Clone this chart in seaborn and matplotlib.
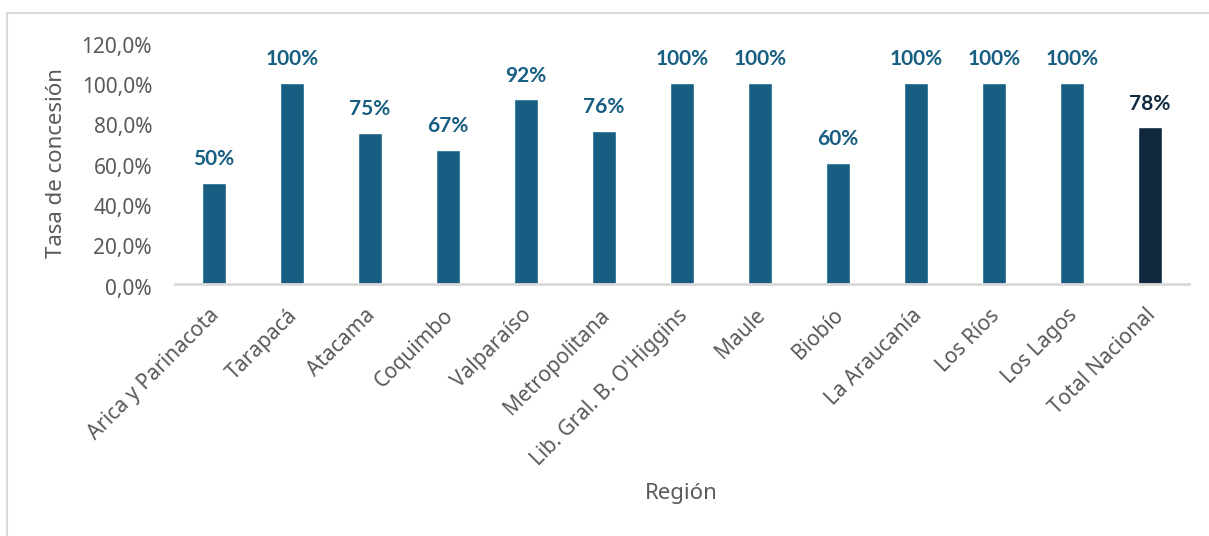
import matplotlib.pyplot as plt
import seaborn as sns
import pandas as pd
from matplotlib.lines import Line2D
from matplotlib.ticker import FuncFormatter
from matplotlib.transforms import ScaledTranslation

regiones = ["Arica y Parinacota", "Tarapacá", "Atacama", "Coquimbo", "Valparaíso",
            "Metropolitana", "Lib. Gral. B. O'Higgins", "Maule", "Biobío",
            "La Araucanía", "Los Ríos", "Los Lagos", "Total Nacional"]
tasas = [0.50, 1.00, 0.75, 0.667, 0.917, 0.762, 1.00, 1.00, 0.60, 1.00, 1.00, 1.00, 0.778]

azul = "#175E82"
navy = "#10293F"
colores = [azul] * 12 + [navy]

df = pd.DataFrame({"region": regiones, "tasa": tasas})

sns.set_style("white")
plt.rcParams["font.family"] = ["Noto Sans", "DejaVu Sans"]

fig = plt.figure(figsize=(12.09, 5.36), dpi=100)
W, H = 1209, 536
ax = fig.add_axes([175 / W, 1 - 284 / H, 1014 / W, 241.5 / H])

sns.barplot(data=df, x="region", y="tasa", hue="region", palette=colores,
            width=0.32, legend=False, ax=ax, saturation=1)

ax.set_ylim(0, 1.2)
ax.set_xlim(-0.5, len(regiones) - 0.5)
ax.set_yticks([0, 0.2, 0.4, 0.6, 0.8, 1.0, 1.2])
ax.yaxis.set_major_formatter(FuncFormatter(lambda v, p: f"{v*100:.1f}%".replace(".", ",")))
ax.tick_params(axis="y", length=0, labelsize=15, labelcolor="#595959", pad=16.5)
ax.tick_params(axis="x", length=0, labelsize=15, labelcolor="#595959", pad=15)
baja = ScaledTranslation(0, -2.5 / 100, fig.dpi_scale_trans)
for lab in ax.get_yticklabels():
    lab.set_transform(lab.get_transform() + baja)
desplaza = ScaledTranslation(-5 / 100, 0, fig.dpi_scale_trans)
for lab in ax.get_xticklabels():
    lab.set_rotation(45)
    lab.set_ha("right")
    lab.set_rotation_mode("anchor")
    lab.set_transform(lab.get_transform() + desplaza)

for s in ["top", "right", "left"]:
    ax.spines[s].set_visible(False)
ax.spines["bottom"].set_color("#D9D9D9")
ax.spines["bottom"].set_linewidth(2)

for i, (v, c) in enumerate(zip(tasas, colores)):
    ax.text(i, v + 0.089, f"{v*100:.0f}%", ha="center", va="baseline",
            fontsize=15, fontweight="bold", color=c, family=["Lato", "DejaVu Sans"])

ax.set_ylabel("")
ax.set_xlabel("")
fig.text(57 / W, 1 - 163.5 / H, "Tasa de concesión", rotation=90, ha="center",
         va="center", fontsize=16, color="#595959")
fig.text(681 / W, 1 - 493 / H, "Región", ha="center", va="center",
         fontsize=16, color="#595959")

# marco del gráfico
fig.add_artist(Line2D([6.5 / W, 6.5 / W], [0, 1 - 12.5 / H], color="#D9D9D9", lw=1.5))
fig.add_artist(Line2D([6.5 / W, 1], [1 - 12.5 / H, 1 - 12.5 / H], color="#D9D9D9", lw=1.5))

fig.savefig("out.png", dpi=100)
